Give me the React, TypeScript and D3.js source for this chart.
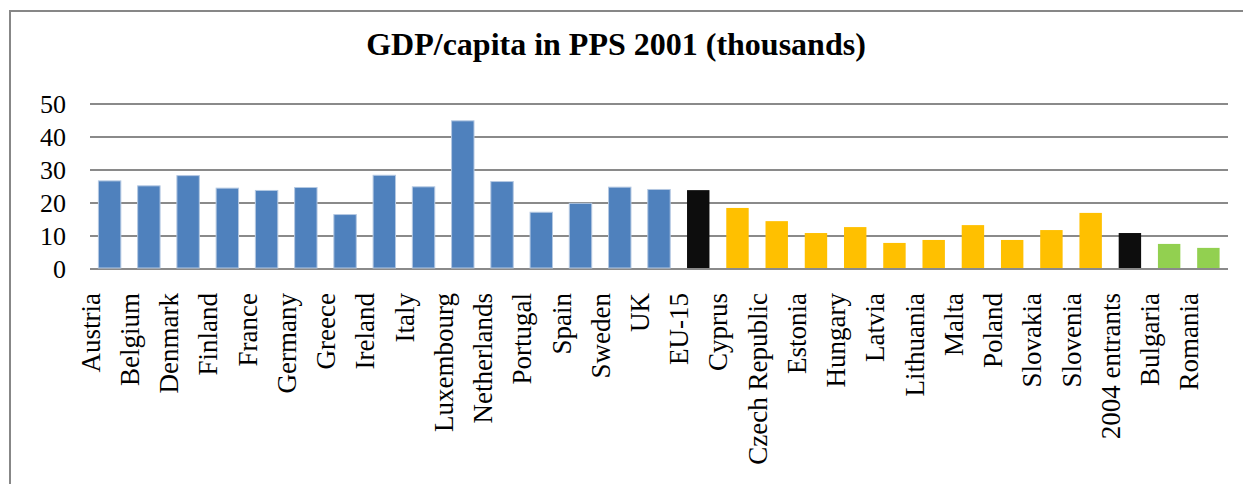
import React from "react";
import * as d3 from "d3";

const categories: string[] = [
  "Austria", "Belgium", "Denmark", "Finland", "France", "Germany", "Greece",
  "Ireland", "Italy", "Luxembourg", "Netherlands", "Portugal", "Spain", "Sweden",
  "UK", "EU-15", "Cyprus", "Czech Republic", "Estonia", "Hungary", "Latvia",
  "Lithuania", "Malta", "Poland", "Slovakia", "Slovenia", "2004 entrants",
  "Bulgaria", "Romania",
];

const values: number[] = [
  26.7, 25.2, 28.3, 24.5, 23.8, 24.7, 16.5, 28.4, 24.9, 44.9, 26.5, 17.2, 19.9,
  24.8, 24.1, 23.9, 18.5, 14.5, 10.9, 12.7, 7.9, 8.8, 13.3, 8.8, 11.8, 17.0,
  10.9, 7.6, 6.4,
];

const groups: string[] = [
  "eu15", "eu15", "eu15", "eu15", "eu15", "eu15", "eu15", "eu15", "eu15",
  "eu15", "eu15", "eu15", "eu15", "eu15", "eu15", "avg", "new", "new", "new",
  "new", "new", "new", "new", "new", "new", "new", "avg", "candidate", "candidate",
];

const yTicks: number[] = [0, 10, 20, 30, 40, 50];

const title = "GDP/capita in PPS 2001 (thousands)";

const groupColor: Record<string, string> = {
  eu15: "#4F81BD",
  avg: "#0D0D0D",
  new: "#FFC000",
  candidate: "#92D050",
};

export default function App() {
  const W = 1243;
  const H = 484;
  const x = d3
    .scaleBand<string>()
    .domain(categories)
    .range([90, 1228])
    .paddingInner(0.4286)
    .paddingOuter(0.2143);
  const y = d3.scaleLinear().domain([0, 50]).range([269, 104]);
  const serif = "'Liberation Serif', 'Times New Roman', serif";

  return (
    <svg
      width={W}
      height={H}
      style={{ position: "absolute", left: 0, top: 0, background: "#fff" }}
      fontFamily={serif}
    >
      <rect x={0} y={0} width={W} height={H} fill="#fff" />
      {/* frame */}
      <line x1={10} y1={11} x2={W} y2={11} stroke="#878787" strokeWidth={2} />
      <line x1={10} y1={10} x2={10} y2={H} stroke="#878787" strokeWidth={2} />

      <text
        x={616}
        y={54.5}
        textAnchor="middle"
        fontSize={32}
        fontWeight="bold"
        fill="#000"
      >
        {title}
      </text>

      {/* gridlines */}
      {yTicks.map((t) => (
        <g key={t}>
          <line
            x1={90}
            x2={1228}
            y1={y(t)}
            y2={y(t)}
            stroke="#8a8a8a"
            strokeWidth={2}
          />
          <text
            x={66}
            y={y(t)}
            dy="0.34em"
            textAnchor="end"
            fontSize={26}
            fill="#000"
          >
            {t}
          </text>
        </g>
      ))}

      {/* bars */}
      {categories.map((c, i) => {
        const g = groups[i];
        const bx = x(c) as number;
        const bw = x.bandwidth();
        const top = y(values[i]);
        return (
          <rect
            key={c}
            x={bx}
            y={top}
            width={bw}
            height={y(0) - top - 1}
            fill={groupColor[g]}
            stroke={g === "eu15" ? "#b4c8e2" : "none"}
            strokeWidth={g === "eu15" ? 1 : 0}
          />
        );
      })}

      {/* category labels */}
      {categories.map((c) => {
        const cx = (x(c) as number) + x.bandwidth() / 2 - 10;
        return (
          <text
            key={c}
            transform={`translate(${cx},293) rotate(-90)`}
            textAnchor="end"
            fontSize={27}
            fill="#000"
          >
            {c}
          </text>
        );
      })}
    </svg>
  );
}
